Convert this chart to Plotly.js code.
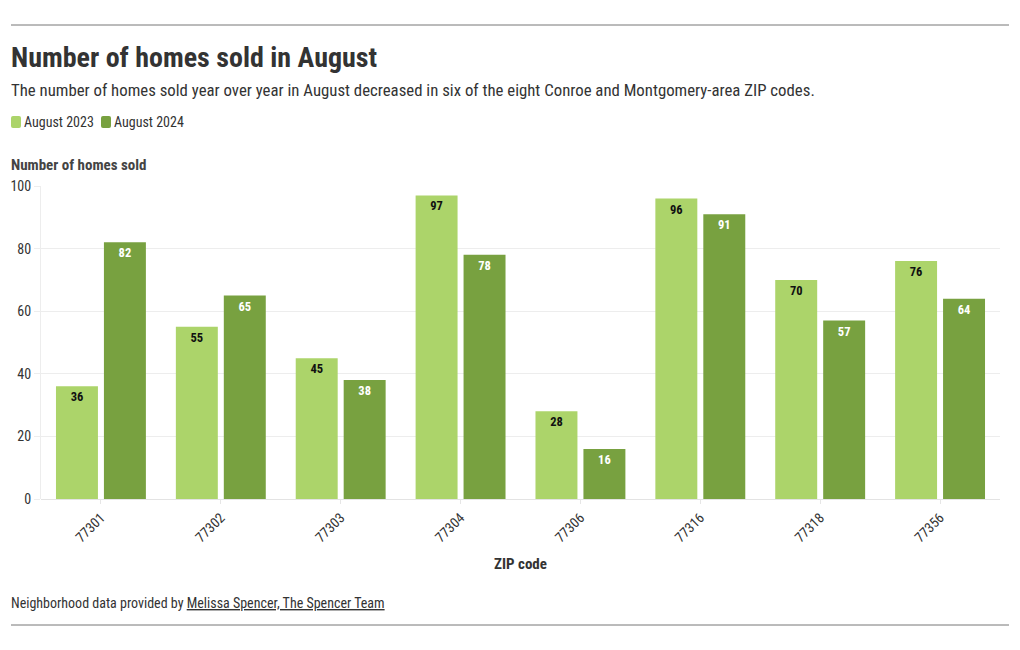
<!DOCTYPE html>
<html>
<head>
<meta charset="utf-8">
<script src="https://cdn.plot.ly/plotly-3.0.1.min.js"></script>
<style>
html,body{margin:0;padding:0;background:#fff;}
#chart{width:1020px;height:650px;}
</style>
</head>
<body>
<div id="chart"></div>
<script>
const zipCodes = ["77301","77302","77303","77304","77306","77316","77318","77356"];
const aug2023 = [36, 55, 45, 97, 28, 96, 70, 76];
const aug2024 = [82, 65, 38, 78, 16, 91, 57, 64];
const seriesNames = ["August 2023", "August 2024"];
const yTicks = [0, 20, 40, 60, 80, 100];

const FONT = "'Roboto Condensed', 'Liberation Sans Narrow', 'Arial Narrow', Roboto, sans-serif";
const LIGHT = "#acd46a";
const DARK = "#78a140";
const colors = [LIGHT, DARK];

// plot area in pixels
const L = 41, R = 1000, T = 186, B = 499;
const W = 1020, H = 650;
const px = x => (x - L) / (R - L);
const py = y => (B - y) / (B - T);

const traces = [
  {
    type: "bar", name: seriesNames[0], x: zipCodes, y: aug2023,
    marker: {color: LIGHT},
    text: aug2023.map(String), textposition: "inside", insidetextanchor: "end",
    textangle: 0,
    textfont: {family: FONT, size: 12.5, color: "#111", weight: "bold"},
    hoverinfo: "x+y+name"
  },
  {
    type: "bar", name: seriesNames[1], x: zipCodes, y: aug2024,
    marker: {color: DARK},
    text: aug2024.map(String), textposition: "inside", insidetextanchor: "end",
    textangle: 0,
    textfont: {family: FONT, size: 12.5, color: "#fff", weight: "bold"},
    hoverinfo: "x+y+name"
  }
];

// custom legend (rounded swatches + text)
function roundedRect(x0, y0, x1, y1, r) {
  const X0 = px(x0), X1 = px(x1), Y0 = py(y0), Y1 = py(y1);
  const rx = r / (R - L), ry = r / (B - T);
  return `M ${X0 + rx},${Y0} L ${X1 - rx},${Y0} Q ${X1},${Y0} ${X1},${Y0 - ry} ` +
         `L ${X1},${Y1 + ry} Q ${X1},${Y1} ${X1 - rx},${Y1} L ${X0 + rx},${Y1} ` +
         `Q ${X0},${Y1} ${X0},${Y1 + ry} L ${X0},${Y0 - ry} Q ${X0},${Y0} ${X0 + rx},${Y0} Z`;
}
const legendX = [11, 101];
const legendShapes = seriesNames.map((n, i) => ({
  type: "path", xref: "paper", yref: "paper",
  path: roundedRect(legendX[i], 116, legendX[i] + 10, 128, 2),
  fillcolor: colors[i], line: {width: 0}
}));
const legendText = seriesNames.map((n, i) => ({
  xref: "paper", yref: "paper", x: px(legendX[i] + 12), y: py(122),
  xanchor: "left", yanchor: "middle", showarrow: false, borderpad: 0,
  text: n, font: {family: FONT, size: 14, color: "#333"}
}));

const layout = {
  width: W, height: H,
  margin: {l: L, r: W - R, t: T, b: H - B, autoexpand: false},
  paper_bgcolor: "#fff", plot_bgcolor: "#fff",
  font: {family: FONT, color: "#333", size: 14},
  barmode: "group", bargap: 0.2, bargroupgap: 0.125,
  showlegend: false,
  uniformtext: {mode: "show", minsize: 12},
  xaxis: {
    type: "category", tickangle: -45,
    tickfont: {family: FONT, size: 14, color: "#333"},
    showgrid: false, showline: false, zeroline: false,
    ticks: "outside", ticklen: 4, tickcolor: "#e6e6e6", tickwidth: 1,
    automargin: false
  },
  yaxis: {
    range: [0, 100], tickvals: yTicks, ticktext: yTicks.map(String),
    tickfont: {family: FONT, size: 14, color: "#333"},
    showgrid: true, gridcolor: "#ededed", zeroline: true, zerolinecolor: "#e3e3e3",
    showline: true, linecolor: "#ededed", linewidth: 1,
    ticks: "outside", ticklen: 6, tickcolor: "#ededed", automargin: false
  },
  shapes: [
    {type: "line", xref: "paper", yref: "paper", x0: px(11), x1: px(1009), y0: py(25), y1: py(25), line: {color: "#777", width: 1}},
    {type: "line", xref: "paper", yref: "paper", x0: px(11), x1: px(1009), y0: py(625), y1: py(625), line: {color: "#777", width: 1}},
    ...legendShapes
  ],
  annotations: [
    {xref: "paper", yref: "paper", x: px(10), y: py(57.5), xanchor: "left", yanchor: "middle", showarrow: false, borderpad: 0,
     text: "<b>Number of homes sold in August</b>", font: {family: FONT, size: 28, color: "#333"}},
    {xref: "paper", yref: "paper", x: px(10), y: py(90), xanchor: "left", yanchor: "middle", showarrow: false, borderpad: 0,
     text: "The number of homes sold year over year in August decreased in six of the eight Conroe and Montgomery-area ZIP codes.",
     font: {family: FONT, size: 16.8, color: "#333"}},
    {xref: "paper", yref: "paper", x: px(10), y: py(165), xanchor: "left", yanchor: "middle", showarrow: false, borderpad: 0,
     text: "<b>Number of homes sold</b>", font: {family: FONT, size: 15, color: "#444"}},
    {xref: "paper", yref: "paper", x: 0.5, y: py(564), xanchor: "center", yanchor: "middle", showarrow: false, borderpad: 0,
     text: "<b>ZIP code</b>", font: {family: FONT, size: 15, color: "#333"}},
    {xref: "paper", yref: "paper", x: px(10), y: py(603), xanchor: "left", yanchor: "middle", showarrow: false, borderpad: 0,
     text: "Neighborhood data provided by <u>Melissa Spencer, The Spencer Team</u>", font: {family: FONT, size: 14, color: "#333"}},
    ...legendText
  ]
};

Plotly.newPlot("chart", traces, layout, {displayModeBar: false, staticPlot: true});
</script>
</body>
</html>
